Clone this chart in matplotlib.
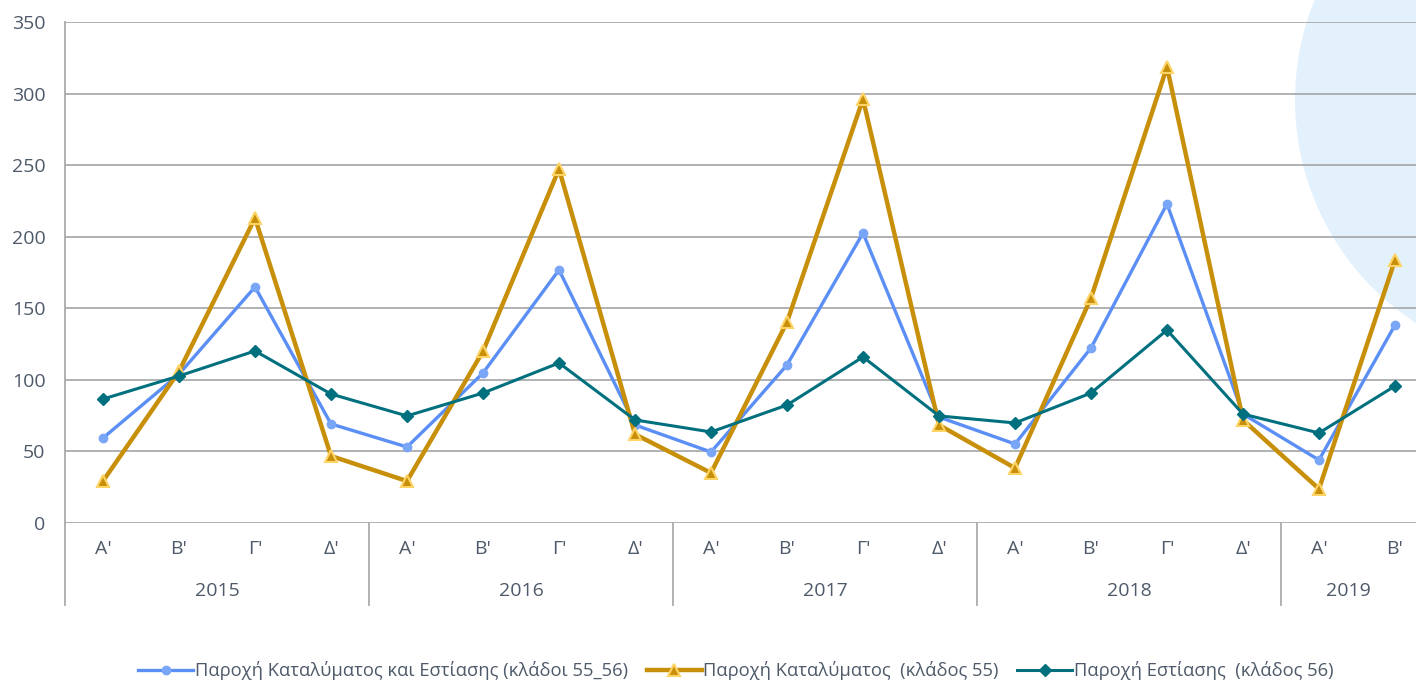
import matplotlib
matplotlib.use("Agg")
import matplotlib.pyplot as plt
from matplotlib.patches import Circle
from matplotlib.lines import Line2D

plt.rcParams['font.family'] = ['Open Sans', 'DejaVu Sans']

quarters = ["Α'", "Β'", "Γ'", "Δ'"] * 4 + ["Α'", "Β'"]
years = ["2015", "2016", "2017", "2018", "2019"]
year_counts = [4, 4, 4, 4, 2]

total_55_56 = [59.4, 104, 164.9, 69.2, 53.1, 104.8, 176.8, 68.5, 49.6, 110.4,
               202.6, 74, 55.2, 122.3, 222.9, 76.1, 44, 138.3]
accom_55 = [29.3, 106, 213, 46.8, 29.3, 120, 247.3, 62, 35, 140.4,
            296.2, 68.5, 38.4, 157.2, 318.6, 72, 23.8, 183.7]
food_56 = [86.6, 102.7, 120.2, 90.1, 74.8, 90.8, 111.8, 72, 63.6, 82.4,
           116, 74.8, 69.9, 90.8, 134.8, 76.1, 62.9, 95.7]

labels = ["Παροχή Καταλύματος και Εστίασης (κλάδοι 55_56)",
          "Παροχή Καταλύματος  (κλάδος 55)",
          "Παροχή Εστίασης  (κλάδος 56)"]

W, H = 1416, 683
fig = plt.figure(figsize=(W / 100, H / 100), dpi=100)
text_color = '#4E5A6A'
grid_color = '#A9ABAE'

# decorative circle (pixel-based, in inches), behind everything
circ = Circle((15.61, (H - 100) / 100), 2.66, transform=fig.dpi_scale_trans,
              facecolor='#E3F1FD', edgecolor='none', zorder=-10)
fig.patches.append(circ)

left, top, bottom = 65, 22, 523
ax = fig.add_axes([left / W, 1 - bottom / H, (W - left) / W, (bottom - top) / H])
ax.set_zorder(1)
ax.patch.set_alpha(0)
step = 76
xr = (W - left) / step - 0.5
ax.set_xlim(-0.5, xr)
ax.set_ylim(0, 350)
x = list(range(len(quarters)))

ax.plot(x, total_55_56, color='#5B8FF5', lw=2.4, marker='o', ms=6,
        mfc='#7AA6F7', mec='#7AA6F7', zorder=3, label=labels[0])
ax.plot(x, accom_55, color='#C8900A', lw=3.2, marker='^', ms=8,
        mfc='#C8900A', mec='#FFD466', mew=1.5, zorder=4, label=labels[1])
ax.plot(x, food_56, color='#00707F', lw=2.2, marker='D', ms=6,
        mfc='#00707F', mec='#00707F', zorder=5, label=labels[2])

ax.set_yticks(range(0, 351, 50))
ax.yaxis.grid(True, color=grid_color, lw=1.3)
ax.set_axisbelow(True)
ax.tick_params(axis='y', length=0, labelsize=14, labelcolor=text_color, pad=14)
ax.set_xticks([])
for s in ['top', 'right', 'bottom']:
    ax.spines[s].set_visible(False)
ax.spines['left'].set_color(grid_color)
ax.spines['left'].set_linewidth(1.3)

# category labels
trans = ax.get_xaxis_transform()
def ypix(p):
    return (bottom - p) / (bottom - top)

for i, q in enumerate(quarters):
    ax.text(i, ypix(549), q, transform=trans, ha='center', va='center',
            fontsize=14, color=text_color, clip_on=False)

start = 0
seps = [-0.5]
for yr, n in zip(years, year_counts):
    end = min(start + n - 0.5, xr)
    ax.text((start - 0.5 + end) / 2, ypix(591), yr, transform=trans, ha='center',
            va='center', fontsize=14, color=text_color, clip_on=False)
    start += n
    seps.append(start - 0.5)
for s in seps:
    if s < xr:
        ax.add_line(Line2D([s, s], [0, ypix(605)], transform=trans, color=grid_color,
                           lw=1.3, clip_on=False))

handles, labs = ax.get_legend_handles_labels()
leg = fig.legend(handles, labs, loc='center', bbox_to_anchor=(736 / W, 1 - 671 / H),
                 ncol=3, frameon=False, fontsize=13.2, handlelength=3.0,
                 handletextpad=0.1, columnspacing=1.0)
for t in leg.get_texts():
    t.set_color(text_color)

fig.savefig("out.png", dpi=100)
